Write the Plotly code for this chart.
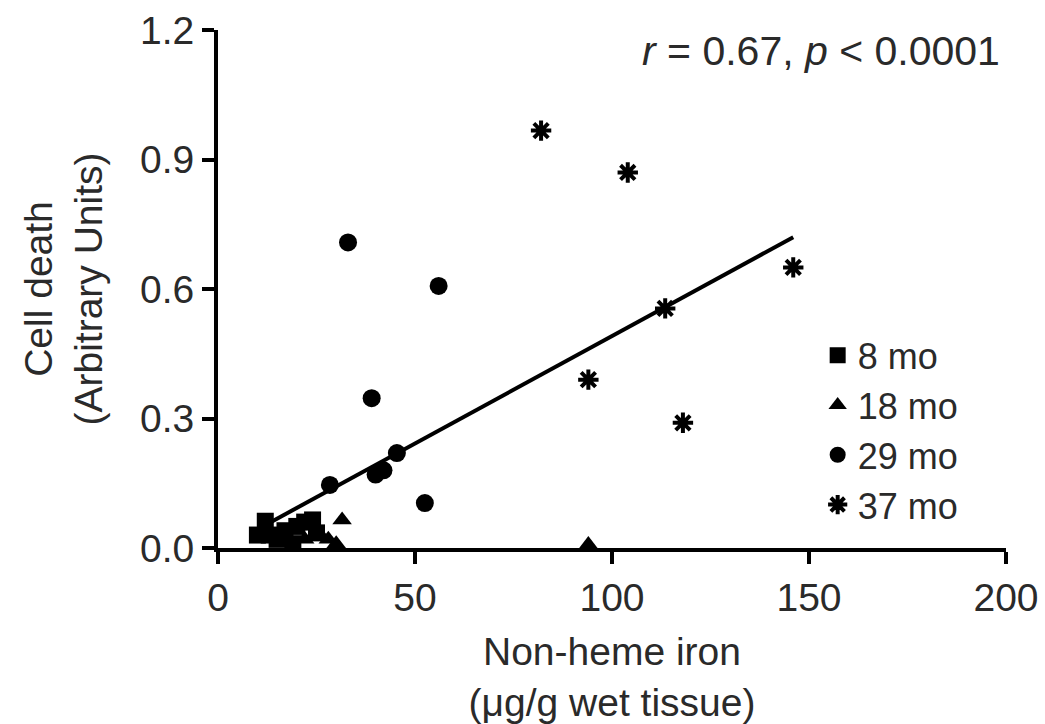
import plotly.graph_objects as go

# 8 mo (squares)
x8 = [10, 12, 13, 15, 17, 19, 20, 22, 24, 25]
y8 = [0.03, 0.062, 0.03, 0.02, 0.04, 0.01, 0.05, 0.06, 0.065, 0.035]
# 18 mo (triangles)
x18 = [22, 26, 28, 30, 31.5, 94]
y18 = [0.02, 0.03, 0.02, 0.01, 0.065, 0.008]
# 29 mo (circles)
x29 = [33, 56, 39, 28.4, 40, 42, 45.4, 52.5]
y29 = [0.708, 0.607, 0.347, 0.146, 0.17, 0.18, 0.22, 0.104]
# 37 mo (asterisks)
x37 = [82, 104, 146, 113.5, 94, 118]
y37 = [0.967, 0.87, 0.65, 0.555, 0.39, 0.29]
# regression line
fit_x = [13, 146]
fit_y = [0.058, 0.72]

FONT = "Liberation Sans, Arial, Helvetica, sans-serif"
TXT = "#2a2a2a"
FS = 39

fig = go.Figure()
fig.add_trace(go.Scatter(x=fit_x, y=fit_y, mode="lines",
                         line=dict(color="black", width=4), showlegend=False))
fig.add_trace(go.Scatter(x=x8, y=y8, mode="markers", name="8 mo",
                         marker=dict(symbol="square", size=17, color="black")))
fig.add_trace(go.Scatter(x=x18, y=y18, mode="markers", name="18 mo",
                         marker=dict(symbol="triangle-up", size=17, color="black")))
fig.add_trace(go.Scatter(x=x29, y=y29, mode="markers", name="29 mo",
                         marker=dict(symbol="circle", size=18, color="black")))
fig.add_trace(go.Scatter(x=x37, y=y37, mode="markers", name="37 mo",
                         marker=dict(symbol="asterisk-open", size=17, color="black",
                                     line=dict(color="black", width=4))))

fig.update_layout(
    width=1045, height=724,
    margin=dict(l=218, r=39, t=30, b=176, autoexpand=False),
    paper_bgcolor="white", plot_bgcolor="white",
    font=dict(family=FONT, size=FS, color=TXT),
    legend=dict(x=0.761, y=0.43, xanchor="left", yanchor="top",
                bgcolor="rgba(0,0,0,0)", font=dict(size=36, color=TXT),
                itemsizing="trace"),
    annotations=[dict(
        text="<i>r</i> = 0.67, <i>p</i> &lt; 0.0001",
        x=0.995, y=1.008, xref="paper", yref="paper",
        xanchor="right", yanchor="top", showarrow=False,
        font=dict(size=41, color=TXT, family=FONT))],
)
fig.update_xaxes(range=[0, 200], tickvals=[0, 50, 100, 150, 200],
                 showgrid=False, zeroline=False,
                 showline=True, linecolor="black", linewidth=4,
                 ticks="outside", ticklen=12, tickwidth=4, tickcolor="black",
                 tickfont=dict(size=FS, color=TXT),
                 title=dict(text="Non-heme iron<br>(μg/g wet tissue)",
                            font=dict(size=FS, color=TXT), standoff=23))
fig.update_yaxes(range=[0, 1.2], tickvals=[0, 0.3, 0.6, 0.9, 1.2],
                 tickformat=".1f",
                 showgrid=False, zeroline=False,
                 showline=True, linecolor="black", linewidth=4,
                 ticks="outside", ticklen=12, tickwidth=4, tickcolor="black",
                 tickfont=dict(size=FS, color=TXT),
                 title=dict(text="Cell death<br>(Arbitrary Units)",
                            font=dict(size=FS, color=TXT), standoff=26))

fig.write_html("out.html")
